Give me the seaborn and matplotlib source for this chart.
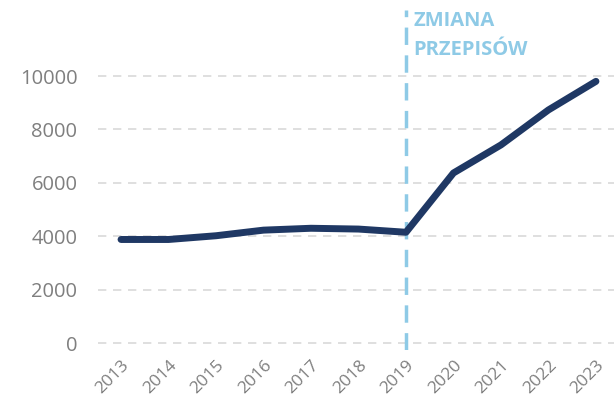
import matplotlib
matplotlib.use("Agg")
import matplotlib.pyplot as plt
import seaborn as sns
import pandas as pd

years = [2013, 2014, 2015, 2016, 2017, 2018, 2019, 2020, 2021, 2022, 2023]
values = [3880, 3880, 4020, 4230, 4300, 4270, 4150, 6370, 7420, 8730, 9800]
yticks = [0, 2000, 4000, 6000, 8000, 10000]
change_year = 2019
note = "ZMIANA\nPRZEPISÓW"

df = pd.DataFrame({"year": years, "value": values})

sns.set_style("white")
plt.rcParams["font.family"] = ["Open Sans", "DejaVu Sans"]

fig = plt.figure(figsize=(6.14, 4.01), dpi=100)
ax = fig.add_axes([0.16, 0.127, 0.84, 0.848])

for y in yticks:
    ax.axhline(y, color="#d9d9d9", lw=1.2, ls=(0, (5, 4)), zorder=0)

sns.lineplot(data=df, x="year", y="value", ax=ax, color="#1f3864", lw=5,
             solid_capstyle="round", solid_joinstyle="round", zorder=3)

ax.axvline(change_year, color="#8ecae6", lw=2.5, ls=(0, (5, 3)), zorder=2)
ax.text(change_year + 0.15, 12450, note, color="#8ecae6", fontsize=14.5,
        fontweight="bold", va="top", ha="left", linespacing=1.6)

ax.set_xlim(2012.52, 2023.38)
ax.set_ylim(-260, 12470)
ax.set_xticks(years)
ax.set_xticklabels([str(y) for y in years], rotation=45, ha="right",
                   rotation_mode="anchor")
ax.set_yticks(yticks)
ax.tick_params(axis="y", labelsize=14.5, length=0, pad=15)
ax.tick_params(axis="x", labelsize=12.5, length=0, pad=5)
for lab in ax.get_xticklabels() + ax.get_yticklabels():
    lab.set_color("#7f7f7f")
ax.set_xlabel("")
ax.set_ylabel("")
sns.despine(ax=ax, left=True, bottom=True)

fig.savefig("out.png", dpi=100)
